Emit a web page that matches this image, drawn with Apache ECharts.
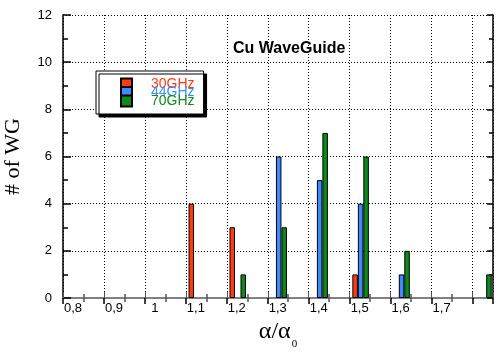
<!DOCTYPE html>
<html>
<head>
<meta charset="utf-8">
<script src="https://cdn.jsdelivr.net/npm/echarts@6/dist/echarts.min.js"></script>
<style>
  html, body { margin: 0; background: #fff; }
  #chart { width: 498px; height: 358px; }
</style>
</head>
<body>
<div id="chart"></div>
<script>
// histogram bins (alpha / alpha0) and number of waveguides per band
const bins = [1.1, 1.2, 1.3, 1.4, 1.5, 1.6, 1.7, 1.8];
const counts30 = [4, 3, 0, 0, 1, 0, 0, 0];
const counts44 = [0, 0, 6, 5, 4, 1, 0, 0];
const counts70 = [0, 1, 3, 7, 6, 2, 0, 1];
const bandNames = ['30GHz', '44GHz', '70GHz'];
const bandColors = ['#ff3b14', '#3d8bff', '#0c8a1c'];

const sans = 'Liberation Sans, Arial, sans-serif';
const serif = 'Liberation Serif, Times New Roman, serif';
// bars sit a little right of the grid lines, as in the original plot
const barShift = 0.0267;

function pairs(counts) {
  return bins.map((b, i) => [b, counts[i]]).filter((d) => d[1] > 0);
}

function fmtX(v) {
  if (v > 1.75) return '';
  return String(+v.toFixed(1)).replace('.', ',');
}

const dotted = { lineStyle: { color: '#000', type: [1, 2], width: 1 } };

const chart = echarts.init(document.getElementById('chart'));

chart.setOption({
  animation: false,
  title: {
    text: 'Cu WaveGuide',
    left: 233,
    top: 41,
    padding: 0,
    textStyle: { fontFamily: sans, fontSize: 16, fontWeight: 'bold', color: '#000' }
  },
  legend: {
    orient: 'vertical',
    left: 96,
    top: 71,
    padding: [6, 9, 6, 24],
    itemWidth: 11,
    itemHeight: 11,
    itemGap: -5.5,
    icon: 'rect',
    backgroundColor: '#fff',
    borderColor: '#000',
    borderWidth: 1,
    shadowColor: '#000',
    shadowBlur: 0.01,
    shadowOffsetX: 3,
    shadowOffsetY: 3,
    textStyle: { fontFamily: sans, fontSize: 14, padding: [0, 0, 0, 14] },
    data: bandNames.map((name, i) => ({ name, textStyle: { color: bandColors[i] } }))
  },
  grid: { left: 63, right: 5, top: 15, bottom: 60, outerBoundsMode: 'none' },
  xAxis: [
    {
      type: 'value',
      position: 'bottom',
      min: 0.8,
      max: 1.85,
      interval: 0.1,
      axisLine: { lineStyle: { color: '#808080', width: 2 } },
      axisTick: { inside: true, length: 6, lineStyle: { color: '#555' } },
      minorTick: { show: true, splitNumber: 2, length: 4, lineStyle: { color: '#555', width: 1.5 } },
      splitLine: { show: true, ...dotted },
      axisLabel: {
        formatter: fmtX,
        fontFamily: sans,
        fontSize: 13,
        color: '#000',
        margin: 4,
        padding: [0, 0, 0, 20]
      },
      name: '{a|α/α}{s|0}',
      nameLocation: 'middle',
      nameGap: 17,
      nameTextStyle: {
        rich: {
          a: { fontFamily: serif, fontSize: 24, lineHeight: 24, verticalAlign: 'top', color: '#000' },
          s: { fontFamily: serif, fontSize: 11, lineHeight: 11, verticalAlign: 'top', padding: [19, 0, 0, 1], color: '#000' }
        }
      }
    },
    {
      type: 'value',
      position: 'top',
      min: 0.8,
      max: 1.85,
      interval: 0.1,
      axisLine: { lineStyle: { color: '#808080', width: 2 } },
      axisTick: { inside: true, length: 6, lineStyle: { color: '#000', width: 1.5 } },
      minorTick: { show: true, splitNumber: 2, length: 4, lineStyle: { color: '#555', width: 1.5 } },
      splitLine: { show: false },
      axisLabel: { show: false }
    },
    {
      type: 'value',
      show: false,
      min: 0.8 - barShift,
      max: 1.85 - barShift
    }
  ],
  yAxis: [
    {
      type: 'value',
      position: 'left',
      min: 0,
      max: 12,
      interval: 2,
      axisLine: { show: true, lineStyle: { color: '#000', width: 1.5 } },
      axisTick: { show: true, inside: true, length: 8, lineStyle: { color: '#000', width: 1.5 } },
      minorTick: { show: true, splitNumber: 2, length: 5, lineStyle: { color: '#000', width: 1.5 } },
      splitLine: { show: true, ...dotted },
      axisLabel: { fontFamily: sans, fontSize: 13, color: '#000', margin: 11 },
      name: '# of WG',
      nameLocation: 'middle',
      nameGap: 39,
      nameTextStyle: { fontFamily: serif, fontSize: 22, color: '#000' }
    },
    {
      type: 'value',
      position: 'right',
      min: 0,
      max: 12,
      interval: 2,
      axisLine: { show: true, lineStyle: { color: '#000', width: 1.5 } },
      axisTick: { show: true, inside: true, length: 6, lineStyle: { color: '#000', width: 1.5 } },
      minorTick: { show: true, splitNumber: 2, length: 4, lineStyle: { color: '#000', width: 1.5 } },
      splitLine: { show: false },
      axisLabel: { show: false }
    }
  ],
  series: [counts30, counts44, counts70].map((counts, i) => ({
    name: bandNames[i],
    type: 'bar',
    xAxisIndex: 2,
    yAxisIndex: 0,
    barWidth: 5.5,
    barGap: '0%',
    itemStyle: { color: bandColors[i], borderColor: '#000', borderWidth: 1 },
    data: pairs(counts)
  }))
});
</script>
</body>
</html>
